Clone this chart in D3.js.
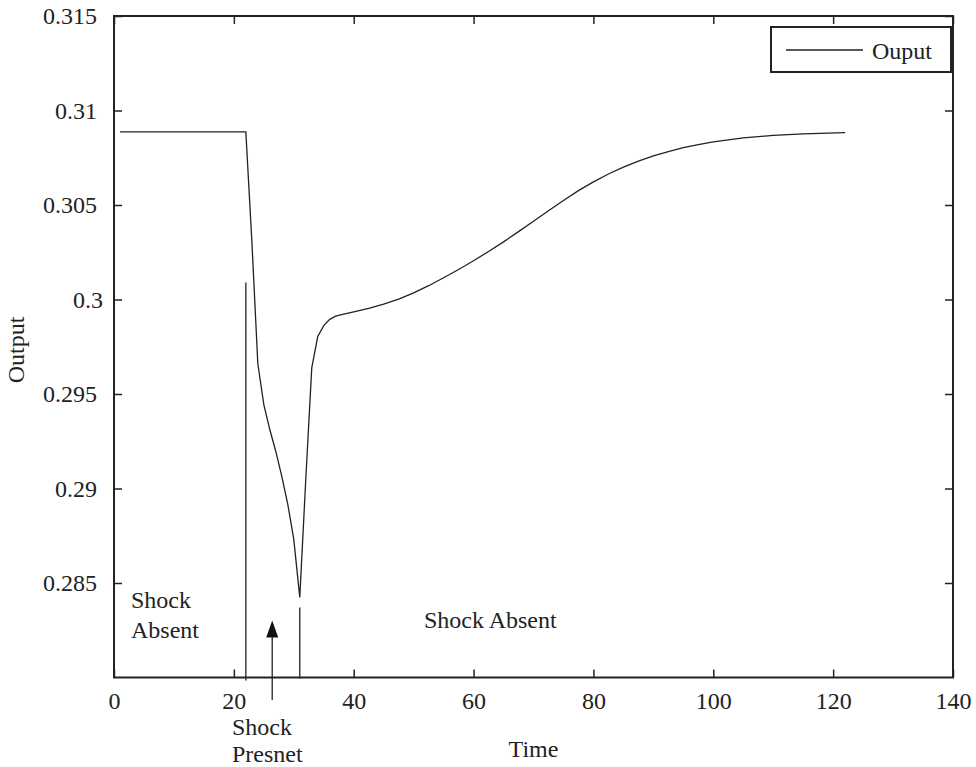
<!DOCTYPE html>
<html lang="en">
<head>
<meta charset="utf-8"/>
<title>Output vs Time</title>
<script src="https://d3js.org/d3.v7.min.js"></script>
<style>
body { margin: 0; background: #fff; }
text { font-family: "Liberation Serif", "DejaVu Serif", serif; font-size: 24px; fill: #222; }
.frame { fill: none; stroke: #222; stroke-width: 2; }
.tick line { stroke: #222; stroke-width: 1.5; }
.line { fill: none; stroke: #222; stroke-width: 1.3; }
.marker { stroke: #222; stroke-width: 1.3; }
</style>
</head>
<body>
<div id="chart"></div>
<script>
// series
var time = [1, 22, 23, 24, 25, 26, 27, 28, 29, 30, 31, 32, 33, 34, 35, 36, 37, 38, 40,
            42.5, 45, 47.5, 50, 52.5, 55, 57.5, 60, 62.5, 65, 67.5, 70, 72.5, 75, 77.5, 80,
            82.5, 85, 87.5, 90, 92.5, 95, 97.5, 100, 105, 110, 115, 122];
var output = [0.30887, 0.30887, 0.30311, 0.29660, 0.29444, 0.29312, 0.29196, 0.29064, 0.28916, 0.28731, 0.28424,
              0.29048, 0.29638, 0.29805, 0.29862, 0.29895, 0.29912, 0.29920, 0.29935,
              0.29953, 0.29975, 0.30002, 0.30035, 0.30073, 0.30115, 0.30159, 0.30205, 0.30254, 0.30305,
              0.30359, 0.30414, 0.30470, 0.30524, 0.30576, 0.30622,
              0.30664, 0.30700, 0.30732, 0.30760, 0.30783, 0.30803, 0.30820, 0.30834, 0.30855, 0.30868,
              0.30876, 0.30883];

var xTicks = [0, 20, 40, 60, 80, 100, 120, 140];
var yTicks = [0.285, 0.29, 0.295, 0.3, 0.305, 0.31, 0.315];
var yTickLabels = ["0.285", "0.29", "0.295", "0.3", "0.305", "0.31", "0.315"];

// shock markers: [time, top output]
var shockStart = [22, 0.3009];
var shockEnd = [31, 0.2837];
var arrowAt = [26.4, 0.28302];

var w = 976, h = 767;
var mLeft = 114, mRight = 953, mTop = 16, mBottom = 677.5;

var svg = d3.select("#chart").append("svg").attr("width", w).attr("height", h);

var xScale = d3.scaleLinear().domain([0, 140]).range([mLeft, mRight]);
var yScale = d3.scaleLinear().domain([0.28, 0.315]).range([mBottom, mTop]);

var data = time.map(function(t, i){ return {t: t, v: output[i]}; });

// data line
var line = d3.line()
    .x(function(d){ return xScale(d.t); })
    .y(function(d){ return yScale(d.v); });

svg.append("path").datum(data).attr("class", "line").attr("d", line);

// ticks on all four sides, pointing in
var tickLen = 8;
function styleText(g){
   g.select(".domain").remove();
   g.selectAll("text").attr("fill", "#222").style("font-size", "24px").style("font-family", "Liberation Serif, serif");
}
svg.append("g").attr("transform", "translate(0," + mBottom + ")")
   .call(d3.axisBottom(xScale).tickValues(xTicks).tickSize(-tickLen).tickPadding(14).tickFormat(d3.format("d")))
   .call(styleText);
svg.append("g").attr("transform", "translate(0," + mTop + ")")
   .call(d3.axisTop(xScale).tickValues(xTicks).tickSize(-tickLen).tickFormat(""))
   .call(styleText);
svg.append("g").attr("transform", "translate(" + mLeft + ",0)")
   .call(d3.axisLeft(yScale).tickValues(yTicks).tickSize(-tickLen).tickPadding(17)
         .tickFormat(function(d, i){ return yTickLabels[i]; }))
   .call(styleText)
   .call(function(g){ g.selectAll(".tick text").filter(function(d){ return d === 0.3; }).attr("dx", 6); });
svg.append("g").attr("transform", "translate(" + mRight + ",0)")
   .call(d3.axisRight(yScale).tickValues(yTicks).tickSize(-tickLen).tickFormat(""))
   .call(styleText);

svg.append("rect").attr("class", "frame")
   .attr("x", mLeft).attr("y", mTop).attr("width", mRight - mLeft).attr("height", mBottom - mTop);

// shock markers
svg.append("line").attr("class", "marker")
   .attr("x1", xScale(shockStart[0])).attr("x2", xScale(shockStart[0]))
   .attr("y1", yScale(shockStart[1])).attr("y2", mBottom + 3);
svg.append("line").attr("class", "marker")
   .attr("x1", xScale(shockEnd[0])).attr("x2", xScale(shockEnd[0]))
   .attr("y1", yScale(shockEnd[1])).attr("y2", mBottom + 1);

// arrow
var ax = xScale(arrowAt[0]), ay = yScale(arrowAt[1]);
svg.append("line").attr("class", "marker")
   .attr("x1", ax).attr("x2", ax).attr("y1", ay + 14).attr("y2", 700);
svg.append("path").attr("fill", "#111")
   .attr("d", "M" + ax + "," + ay + "L" + (ax - 6) + "," + (ay + 17) + "L" + (ax + 6) + "," + (ay + 17) + "Z");

// annotations
var ann = svg.append("g");
ann.append("text").attr("x", 131).attr("y", 608).text("Shock");
ann.append("text").attr("x", 131).attr("y", 638).text("Absent");
ann.append("text").attr("x", 424).attr("y", 628).text("Shock Absent");
ann.append("text").attr("x", 232).attr("y", 735).text("Shock");
ann.append("text").attr("x", 232).attr("y", 762).text("Presnet");

// axis titles
svg.append("text").attr("x", (mLeft + mRight) / 2).attr("y", 757).attr("text-anchor", "middle").text("Time");
svg.append("text").attr("transform", "translate(24,350) rotate(-90)").attr("text-anchor", "middle").text("Output");

// legend
var leg = svg.append("g");
leg.append("rect").attr("x", 771).attr("y", 27).attr("width", 180).attr("height", 45)
   .attr("fill", "#fff").attr("stroke", "#222").attr("stroke-width", 2);
leg.append("line").attr("class", "line").attr("x1", 786).attr("x2", 863).attr("y1", 50).attr("y2", 50);
leg.append("text").attr("x", 872).attr("y", 59).text("Ouput");
</script>
</body>
</html>
